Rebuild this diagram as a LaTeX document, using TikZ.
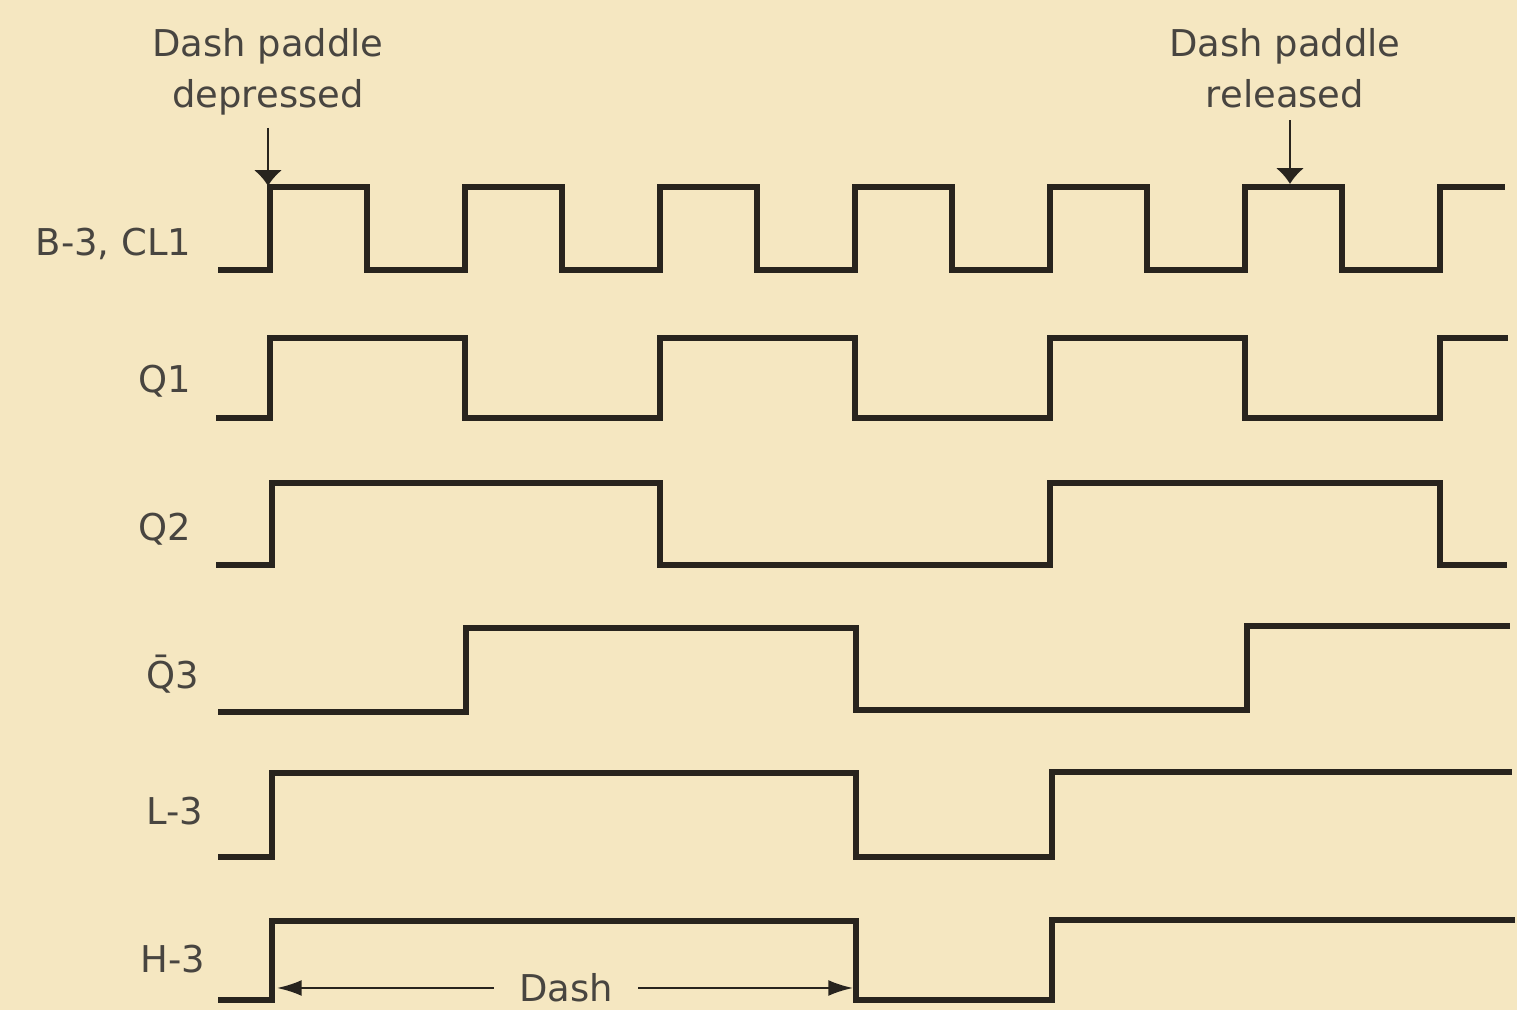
\documentclass[tikz,border=0pt]{standalone}
\usepackage{fontspec}
\setmainfont{DejaVu Sans}
\usetikzlibrary{arrows.meta,calc}
\definecolor{paper}{RGB}{245,231,193}
\definecolor{ink}{RGB}{40,36,30}

\begin{document}
\begin{tikzpicture}[
x=0.01cm,
y=-0.01cm,
wave/.style={
  draw=ink,
  line width=1.5pt,
  line join=miter,
  },
sig/.style={
  text=ink!85,
  font=\fontsize{10.5}{14.5}\selectfont,
  anchor=base east,
  inner sep=0pt,
  },
note/.style={
  text=ink!85,
  font=\fontsize{10.5}{14.5}\selectfont,
  align=center,
  },
pointer/.style={
  draw=ink,
  line width=0.6pt,
  -{Latex[length=4.5pt,width=8pt]},
  },
span/.style={
  draw=ink,
  line width=0.6pt,
  -{Latex[length=7pt,width=4.5pt]},
  },
>=latex
]
\fill[paper, use as bounding box] (0,0) rectangle (1517,1010);

% signal names
\node[sig] (clk) at (192,256) {B-3, CL1};
\node[sig] (q1) at (192,393) {Q1};
\node[sig] (q2) at (192,541) {Q2};
\node[sig] (q3) at (200,689) {\={Q}3};
\node[sig] (l3) at (204,825) {L-3};
\node[sig] (h3) at (206,973) {H-3};

% waveforms
\draw[wave] (218,270)
  \foreach \r in {270,465,...,1245}
  { -- (\r,270) -- (\r,187) -- ({\r+97},187) -- ({\r+97},270) }
  -- (1440,270) -- (1440,187) -- (1505,187);
\draw[wave] (216,418)
  \foreach \r in {270,660,1050}
  { -- (\r,418) -- (\r,338) -- ({\r+195},338) -- ({\r+195},418) }
  -- (1440,418) -- (1440,338) -- (1508,338);
\draw[wave] (216,565) -- (272,565) -- (272,483) -- (660,483) -- (660,565)
  -- (1050,565) -- (1050,483) -- (1440,483) -- (1440,565) -- (1507,565);
\draw[wave] (218,712) -- (466,712) -- (466,628) -- (856,628) -- (856,710)
  -- (1247,710) -- (1247,626) -- (1510,626);
\draw[wave] (218,857) -- (272,857) -- (272,773) -- (856,773) -- (856,857)
  -- (1052,857) -- (1052,772) -- (1512,772);
\draw[wave] (218,1000) -- (272,1000) -- (272,921) -- (856,921) -- (856,1000)
  -- (1052,1000) -- (1052,920) -- (1515,920);

% paddle events
\node[note] (dep) at (268,72) {Dash paddle\\depressed};
\node[note] (rel) at (1285,68) {Dash paddle\\released};
\coordinate (deptip) at (268,186);
\coordinate (reltip) at (1290,184);
\draw[pointer] (dep.south -| deptip) -- (deptip);
\draw[pointer] (rel.south -| reltip) -- (reltip);

% dash length
\node[note, inner xsep=7pt] (dash) at (566,988) {Dash};
\coordinate (dashL) at (277,988);
\coordinate (dashR) at (853,988);
\draw[span] (dash) -- (dashL);
\draw[span] (dash) -- (dashR);
\end{tikzpicture}
\end{document}
